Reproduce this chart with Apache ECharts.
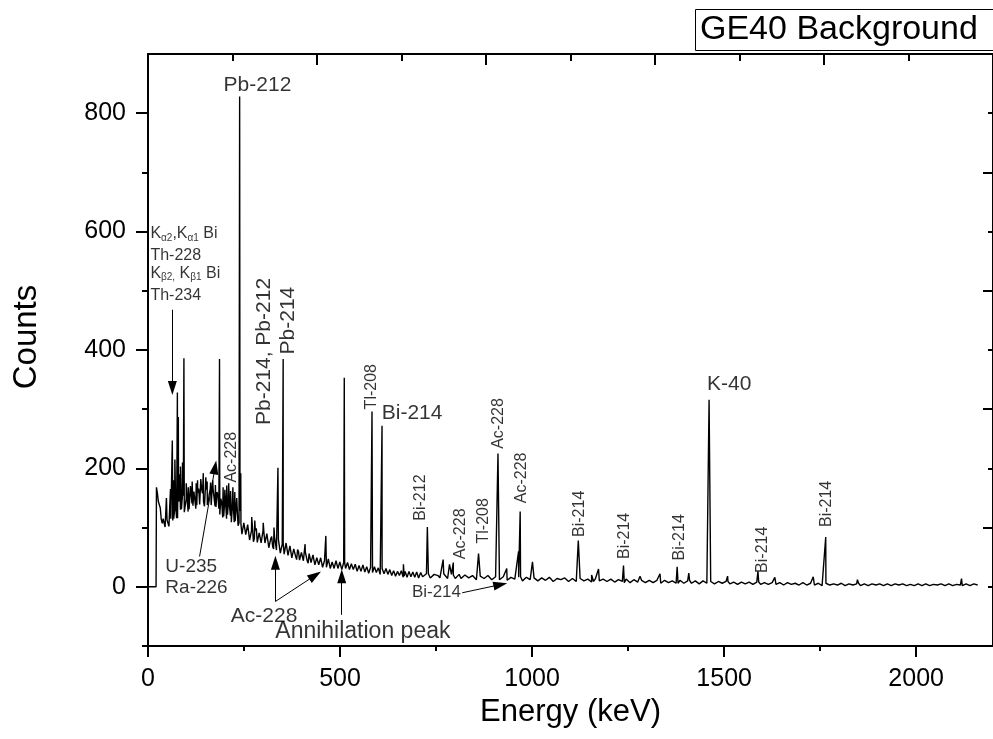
<!DOCTYPE html>
<html><head><meta charset="utf-8">
<script src="https://cdn.jsdelivr.net/npm/echarts@6/dist/echarts.min.js"></script>
<style>html,body{margin:0;padding:0;background:#fff}#c{width:993px;height:739px}</style>
</head><body><div id="c"></div>
<script>
const FONT = '"Liberation Sans", Arial, Helvetica, sans-serif';

// ---- spectrum data ----
const leadIn = [[0, 0], [21, 0]];
const contAStart = 22, contAStep = 5;
const contA = [
  168,144,133,107,114,101,113,104,118,115,
  138,116,148,131,154,126,147,131,160,137,
  161,138,166,137,158,136,164,144,165,137,
  164,135,155,122,142,119,144,122,138,109,
  138,111,136,108,106,86,106,87,104,82,
  100,82,99,76,92,72,90,73,90,66,
  85,64,83,65,77,56,73,55,72,53,
  68,52,64,46,59,45,61,46,57,40,
  55,39,51,39,52,38,48,33,46,33,
  46,33,44,30,41,30,43,32,41,28,
  39,28,39,29,38,27,35,25,37,26,
  36,24,33,23,33,24,33,22,30,20,
  30,20,29,21,27,18,26,18,27,18,
  26,17,24,16,24,16,24
];
const contA2Start = 24.5, contA2Step = 5;
const contA2 = [
  158,147,114,115,101,113,102,115,112,131,
  116,144,130,153,126,149,127,158,141,161,
  132,159,139,165,144,168,138,157,138,165,
  136,160,132,149,117,141,115,144,120,135,
  109,134,103,128,89,108,88,105,79,95,
  76,95,75,91,74,95,74,90,66,81,
  68,84,62,80,57,72,55,74,53,69,
  49,64,51,63,45,58,44,59,44,56,
  41,54,37,49,37,49,33,44,33,47,
  31,42,31,44,31,42,29,41,31,41,
  29,39,29,38,26,36,26,37,25,34,
  23,33,24,34,24,32,21,31,22,31,
  21,29,19,27,18,26,19,27,16,26,
  16,26,17,25,16,25,15
];
const contBStart = 710, contBStep = 10;
const contB = [
  24,16,22,15,23,15,22,14,21,14,
  21,13,20,12,19,13,19,11,19,12,
  18,11,17,10,17,10,17,10,16,10,
  16,9,15,10,16,9,15,9,16,10,
  15,9,14,8,15,9,14,8,14,8,
  13,8,13,7,13,8,12,7,12,7,
  12,6,11,7,12,6,11,6,11,6,
  11,5,10,6,10,5,10,5,10,5,
  9,4,9,5,9,4,8,4,8,4,
  8,4,8,3,8,4,7,3,7,4,
  7,3,7,3,6,3,7,2,6,3,
  6,2,6,3,6,2,5,2,6,2,
  5,2,6,2,5,2,5,2,6,2,
  5,2,5,2,5,2,6,2,5,2,
  5,2,5,2,5,3
];
const contB2Start = 715, contB2Step = 10;
const contB2 = [
  17,22,15,21,19,14,22,16,20,13,
  14,20,15,19,12,18,14,19,12,17,
  12,17,11,16,13,16,10,16,12,15,
  10,15,11,16,9,14,12,15,9,14,
  9,14,10,13,8,14,10,13,9,13,
  8,12,9,13,7,12,8,11,7,11,
  7,11,6,11,7,10,6,11,6,10,
  6,10,5,10,6,9,5,9,6,9,
  5,8,4,8,5,8,4,8,4,7,
  4,7,4,7,3,7,4,6,3,7,
  3,6,3,6,2,6,3,5,3,6,
  2,5,3,5,2,5,2,5,3,5,
  2,5,2,5,3,5,2,4,2,5,
  2,5,2,4,3,5,2,5,2,4,
  3,5,2,4,3
];
const peakEnergy = [48,58.5,63.3,66.5,70,76.5,79.0,82.5,84.5,89.8,93.5,99.5,105,110.5,115,125.5,129,137.5,144,150.5,154,163,168.5,175.5,186.2,195.5,200,205,210,215,221,226,231,238.6,241.5,270,278,300,328,338.3,351.9,409,463,511,583.2,609.3,665,727.3,768.4,785,794.9,860.6,911.2,934,964.8,969,1001,1120.3,1155,1173,1238,1281,1333,1377.7,1408,1460.8,1509,1588,1632,1732,1764.5,1847,2118];
const peakCounts = [150,165,247,180,215,328,287,190,203,210,386,175,168,170,178,175,180,182,192,185,178,176,180,172,385,168,164,171,175,162,168,160,150,828,192,118,112,108,100,201,385,72,86,353,296,272,38,101,46,38,41,56,225,31,60,127,42,78,20,30,36,18,22,34,23,316,18,26,16,17,84,12,14];

// ---- axes ticks ----
const xTickLabels = [0, 500, 1000, 1500, 2000];
const xMinorTicks = [250, 750, 1250, 1750];
const yTickLabels = [0, 200, 400, 600, 800];
const yMinorTicks = [-100, 100, 300, 500, 700];

// ---- annotations: [text, energy, counts] ----
const bigLabels = [['Pb-212', 285, 848], ['K-40', 1513, 343], ['Bi-214', 687.5, 294]];
const bigRotLabels = [['Pb-214, Pb-212', 301.8, 397.5], ['Pb-214', 365.5, 449.7]];
const smallRotLabels = [
  ['Ac-228', 216.6, 218.8], ['Tl-208', 582.3, 338], ['Bi-212', 711, 150.7],
  ['Ac-228', 813, 89.5], ['Tl-208', 873.8, 111.5], ['Ac-228', 911.7, 275.8],
  ['Ac-228', 973.2, 184], ['Bi-214', 1122.6, 123.3], ['Bi-214', 1242, 86],
  ['Bi-214', 1384, 83.6], ['Bi-214', 1599, 62.5], ['Bi-214', 1766.8, 140]
];
const xrayLabels = [
  ['K{s|α2},K{s|α1} Bi', 6.2, 596], ['Th-228', 6.2, 559],
  ['K{s|β2,} K{s|β1} Bi', 6.2, 529], ['Th-234', 6.2, 491.5]
];
const uraLabels = [['U-235', 45.2, 33.3], ['Ra-226', 45.2, -2.2]];
const acLabel = [['Ac-228', 302.3, -49]];
const annLabel = [['Annihilation peak', 331.4, -76]];
const biArrowLabel = [['Bi-214', 751, -10]];
// arrows: [fromE, fromC, toE, toC]
const arrows = [
  [63.4, 468, 63.4, 336],
  [134.3, 51.2, 174.5, 201.7],
  [331.7, -24.8, 331.7, 40.5],
  [331.7, -24.8, 435.3, 19.4],
  [504.4, -47.3, 504.4, 17.7],
  [818.2, -10.1, 917.4, 3.7]
];

// ---- build spectrum ----
const spectrum = leadIn.slice();
contA.forEach((c, i) => spectrum.push([contAStart + i * contAStep, c]));
contA2.forEach((c, i) => spectrum.push([contA2Start + i * contA2Step, c]));
contB.forEach((c, i) => spectrum.push([contBStart + i * contBStep, c]));
contB2.forEach((c, i) => spectrum.push([contB2Start + i * contB2Step, c]));
peakEnergy.forEach((e, i) => spectrum.push([e, peakCounts[i]]));
spectrum.sort((a, b) => a[0] - b[0]);

function labelSeries(items, label) {
  return {
    type: 'scatter', xAxisIndex: 0, yAxisIndex: 0, symbolSize: 1, silent: true, z: 5,
    itemStyle: { color: 'rgba(0,0,0,0)' }, emphasis: { disabled: true },
    data: items.map(d => ({ name: d[0], value: [d[1], d[2]] })),
    label: Object.assign({ show: true, position: 'inside', color: '#000', fontFamily: FONT,
      formatter: p => p.name }, label)
  };
}

const black = '#000';
const chart = echarts.init(document.getElementById('c'), null, { renderer: 'canvas' });
chart.setOption({
  animation: false,
  backgroundColor: '#fff',
  textStyle: { fontFamily: FONT, color: black },
  title: {
    text: 'GE40 Background', left: 695, top: 9, padding: [4, 60, 4, 5],
    borderColor: black, borderWidth: 1, backgroundColor: '#fff',
    textStyle: { fontSize: 34, fontWeight: 'normal', color: black, fontFamily: FONT }
  },
  grid: { left: 148, top: 54, right: -2, bottom: 93, containLabel: false },
  xAxis: [
    { type: 'value', position: 'bottom', min: 0, max: 2200,
      axisLine: { show: true, onZero: false, lineStyle: { color: black, width: 2 } },
      axisTick: { show: true, customValues: xTickLabels, length: 11, lineStyle: { color: black, width: 2 } },
      axisLabel: { show: true, customValues: xTickLabels, margin: 21, fontSize: 25, color: black,
        fontFamily: FONT, formatter: v => String(v) },
      splitLine: { show: false },
      name: 'Energy (keV)', nameLocation: 'middle', nameGap: 48,
      nameTextStyle: { fontSize: 31, color: black, fontFamily: FONT } },
    { type: 'value', position: 'bottom', min: 0, max: 2200,
      axisLine: { show: false, onZero: false },
      axisTick: { show: true, customValues: xMinorTicks, length: 5, lineStyle: { color: black, width: 2 } },
      axisLabel: { show: false }, splitLine: { show: false } },
    { type: 'value', position: 'top', min: 0, max: 10, interval: 2,
      axisLine: { show: true, onZero: false, lineStyle: { color: black, width: 2 } },
      axisTick: { show: true, inside: true, length: 11, lineStyle: { color: black, width: 2 } },
      minorTick: { show: true, splitNumber: 2, length: 7, lineStyle: { color: black, width: 2 } },
      axisLabel: { show: false }, splitLine: { show: false } }
  ],
  yAxis: [
    { type: 'value', position: 'left', min: -100, max: 900,
      axisLine: { show: true, onZero: false, lineStyle: { color: black, width: 2 } },
      axisTick: { show: true, customValues: yTickLabels, length: 12, lineStyle: { color: black, width: 2 } },
      axisLabel: { show: true, customValues: yTickLabels, margin: 22, fontSize: 25, color: black,
        fontFamily: FONT, formatter: v => String(v) },
      splitLine: { show: false },
      name: 'Counts', nameLocation: 'middle', nameGap: 105,
      nameTextStyle: { fontSize: 33, color: black, fontFamily: FONT, padding: [0, 0, 0, 26] } },
    { type: 'value', position: 'left', min: -100, max: 900,
      axisLine: { show: false, onZero: false },
      axisTick: { show: true, customValues: yMinorTicks, length: 6, lineStyle: { color: black, width: 2 } },
      axisLabel: { show: false }, splitLine: { show: false } },
    { type: 'value', position: 'right', min: -100, max: 900, interval: 200,
      axisLine: { show: true, onZero: false, lineStyle: { color: black, width: 2 } },
      axisTick: { show: true, inside: true, length: 10, lineStyle: { color: black, width: 2 } },
      minorTick: { show: true, splitNumber: 2, length: 5, lineStyle: { color: black, width: 2 } },
      axisLabel: { show: false }, splitLine: { show: false } }
  ],
  series: [
    { type: 'line', xAxisIndex: 0, yAxisIndex: 0, data: spectrum, showSymbol: false, symbol: 'none',
      lineStyle: { color: black, width: 1.4 }, silent: true, z: 3,
      markLine: {
        silent: true, symbol: ['none', 'triangle'], symbolSize: [9, 14],
        lineStyle: { color: black, width: 1, type: 'solid' }, label: { show: false },
        itemStyle: { color: black },
        data: arrows.map(a => [{ coord: [a[0], a[1]] }, { coord: [a[2], a[3]] }])
      } },
    labelSeries(bigLabels, { fontSize: 21 }),
    labelSeries(bigRotLabels, { fontSize: 21, rotate: 90 }),
    labelSeries(smallRotLabels, { fontSize: 16, rotate: 90 }),
    labelSeries(xrayLabels, { fontSize: 16, align: 'left', lineHeight: 18,
      rich: { s: { fontSize: 10, lineHeight: 10, verticalAlign: 'bottom', color: black, fontFamily: FONT } } }),
    labelSeries(uraLabels, { fontSize: 19, align: 'left' }),
    labelSeries(acLabel, { fontSize: 21 }),
    labelSeries(annLabel, { fontSize: 23, align: 'left' }),
    labelSeries(biArrowLabel, { fontSize: 17 })
  ]
});
</script></body></html>
